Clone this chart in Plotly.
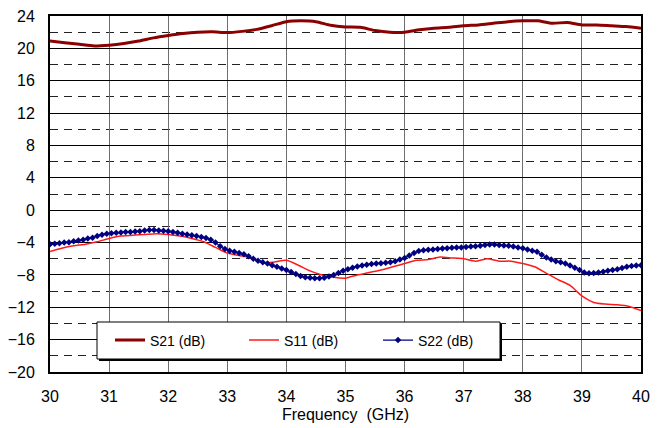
import plotly.graph_objects as go

# ---- data ----
freq_s21 = [30 + 0.25 * i for i in range(41)]
s21_db = [20.9, 20.7, 20.5, 20.3, 20.4, 20.6, 20.9, 21.3, 21.6, 21.85, 22.0, 22.05,
          21.95, 22.1, 22.35, 22.8, 23.3, 23.4, 23.3, 22.85, 22.65, 22.6, 22.2, 22.0,
          22.0, 22.3, 22.5, 22.6, 22.8, 22.9, 23.1, 23.3, 23.4, 23.4, 23.1, 23.2,
          22.9, 22.9, 22.8, 22.7, 22.5]

freq_s11 = [30 + 0.2 * i for i in range(51)]
s11_db = [-5.1, -4.7, -4.4, -4.2, -3.9, -3.5, -3.2, -3.1, -3.0, -2.9, -3.0, -3.2,
          -3.5, -3.9, -4.6, -5.3, -5.6, -5.9, -6.5, -6.4, -6.2, -6.8, -7.5, -8.0,
          -8.3, -8.4, -8.0, -7.7, -7.4, -7.0, -6.6, -6.2, -6.1, -5.8, -5.9, -6.0,
          -6.3, -6.0, -6.3, -6.3, -6.6, -7.0, -7.8, -8.6, -9.3, -10.6, -11.4, -11.6,
          -11.7, -11.9, -12.4]

freq_s22 = [30 + 0.08 * i for i in range(126)]
s22_db = [-4.2, -4.15, -4.1, -4.0, -3.95, -3.85, -3.75, -3.65, -3.5, -3.4,
          -3.2, -3.05, -2.9, -2.85, -2.8, -2.75, -2.7, -2.7, -2.65, -2.6,
          -2.5, -2.45, -2.45, -2.5, -2.55, -2.6, -2.7, -2.8, -2.9, -3.0,
          -3.1, -3.2, -3.3, -3.45, -3.65, -4.0, -4.45, -4.8, -5.0, -5.15,
          -5.3, -5.45, -5.7, -6.0, -6.25, -6.45, -6.6, -6.8, -7.0, -7.2,
          -7.4, -7.65, -7.9, -8.15, -8.3, -8.35, -8.4, -8.4, -8.35, -8.2,
          -8.0, -7.75, -7.5, -7.3, -7.1, -6.95, -6.85, -6.75, -6.65, -6.6,
          -6.55, -6.5, -6.45, -6.3, -6.1, -5.9, -5.6, -5.3, -5.05, -4.95,
          -4.9, -4.85, -4.8, -4.75, -4.7, -4.65, -4.6, -4.6, -4.55, -4.5,
          -4.45, -4.4, -4.3, -4.25, -4.25, -4.3, -4.35, -4.4, -4.5, -4.6,
          -4.7, -4.85, -5.0, -5.15, -5.5, -5.85, -6.1, -6.3, -6.45, -6.6,
          -6.85, -7.1, -7.4, -7.7, -7.8, -7.75, -7.7, -7.6, -7.5, -7.4,
          -7.3, -7.15, -7.0, -6.9, -6.85, -6.8]

x_ticks = list(range(30, 41))
y_ticks = list(range(-20, 25, 4))
x_title = "Frequency  (GHz)"

FONT = "Liberation Sans, Arial, sans-serif"

fig = go.Figure()
fig.add_trace(go.Scatter(x=freq_s21, y=s21_db, mode="lines", name="S21 (dB)",
                         line=dict(color="#8B0000", width=3, shape="spline", smoothing=0.6)))
fig.add_trace(go.Scatter(x=freq_s11, y=s11_db, mode="lines", name="S11 (dB)",
                         line=dict(color="#FF1A1A", width=1.5, shape="spline", smoothing=0.6)))
fig.add_trace(go.Scatter(x=freq_s22, y=s22_db, mode="lines+markers", name="S22 (dB)",
                         line=dict(color="#000080", width=1.2, shape="spline", smoothing=0.4),
                         marker=dict(symbol="diamond", size=5, color="#000080")))

# page body has an 8px margin, so the figure is drawn 8px in from the window edges
OFF = 8
PW, PH = 591, 356
lx0, lx1 = (97 - 50) / PW, (500 - 50) / PW
ly1, ly0 = (372 - 322) / PH, (372 - 359) / PH
sh = 2 / PW
shy = 2 / PH
fig.add_shape(type="rect", xref="paper", yref="paper", x0=lx0 + sh, x1=lx1 + sh,
              y0=ly0 - shy, y1=ly1 - shy, fillcolor="black", line=dict(width=0), layer="above")
fig.add_shape(type="rect", xref="paper", yref="paper", x0=lx0, x1=lx1, y0=ly0, y1=ly1,
              fillcolor="white", line=dict(color="black", width=1), layer="above")

fig.update_layout(
    width=663 - OFF, height=428 - OFF,
    margin=dict(l=50 - OFF, r=22, t=16 - OFF, b=56),
    paper_bgcolor="white", plot_bgcolor="white",
    font=dict(family=FONT, size=16, color="black"),
    showlegend=True,
    legend=dict(orientation="h", x=(118 - 50 - 8) / PW, xanchor="left",
                y=(ly0 + ly1) / 2, yanchor="middle",
                bgcolor="rgba(0,0,0,0)", borderwidth=0,
                font=dict(family=FONT, size=14), entrywidth=89,
                itemwidth=30, tracegroupgap=0),
    xaxis=dict(range=[30, 40], tickvals=x_ticks, showgrid=True, gridcolor="#6e6e6e",
               gridwidth=1.3, showline=True, linecolor="black", linewidth=2, mirror=True,
               ticks="outside", ticklen=9, tickcolor="rgba(0,0,0,0)", zeroline=False,
               automargin=False, ticklabeloverflow="allow",
               title=dict(text=x_title, font=dict(size=16), standoff=5),
               tickfont=dict(size=16)),
    yaxis=dict(range=[-20, 24], tickvals=y_ticks, showgrid=True, gridcolor="black",
               gridwidth=1, showline=True, linecolor="black", linewidth=2, mirror=True,
               ticks="outside", ticklen=10, tickcolor="rgba(0,0,0,0)", zeroline=False,
               automargin=False, ticklabeloverflow="allow", tickfont=dict(size=16),
               minor=dict(tick0=-18, dtick=4, showgrid=True, gridcolor="#222",
                          griddash="8px,6px", gridwidth=1)),
)

fig.write_html("out.html")
